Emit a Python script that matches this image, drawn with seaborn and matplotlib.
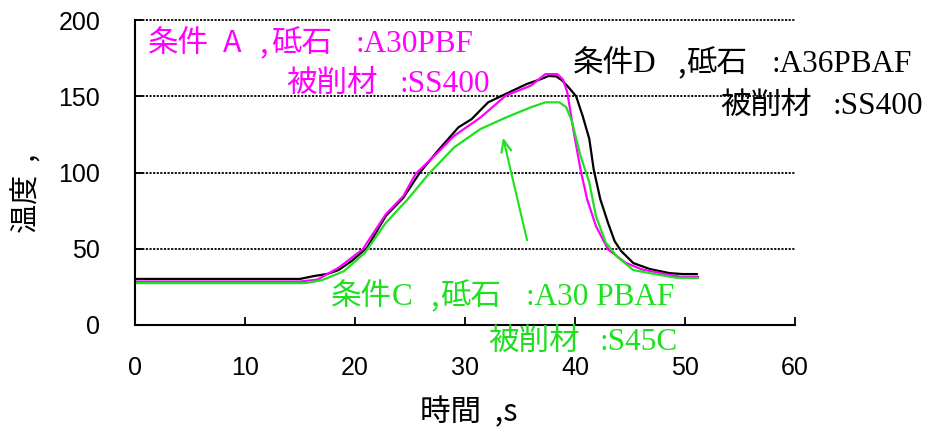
import matplotlib
matplotlib.use("Agg")
import matplotlib.pyplot as plt
import pandas as pd
import seaborn as sns

# Temperature histories (time in s, temperature)
t_d = [0, 15, 16.2, 17.5, 18.5, 19.7, 21.1, 22.8, 24.4, 25.9, 27.5, 29.4, 30.6, 32.1,
       33.7, 35.6, 37.0, 37.6, 38.3, 38.8, 39.4, 40.1, 40.7, 41.3, 41.7, 42.3, 43.0,
       43.6, 44.2, 45.3, 46.8, 48.6, 49.8, 51.1]
temp_d = [30.2, 30.2, 32, 33.5, 36, 42, 50.7, 71.5, 83.5, 100, 114, 129.6, 135, 146,
          151.5, 158, 161.5, 163.3, 163, 160.5, 156, 150, 137, 122, 102, 82.5, 67,
          55, 48.5, 40.6, 36.7, 34, 33.4, 33.4]

t_a = [0, 15, 16.6, 18.5, 20.7, 22.8, 24.4, 25.5, 27.5, 29.0, 31.4, 33.7, 36.0, 37.3,
       38.4, 38.9, 39.3, 39.9, 40.5, 41.1, 41.9, 43.0, 44.6, 46.1, 48.5, 49.6, 51.2]
temp_a = [28.5, 28.5, 29.8, 37.5, 49.6, 72.6, 84.6, 99, 113, 124, 136, 150.4, 157, 164.5,
          164.5, 161, 152.6, 126, 102, 82.5, 65, 49.6, 40.8, 36.4, 33, 31.6, 31.6]

t_c = [0, 15.5, 17.0, 19.0, 20.9, 22.8, 24.8, 26.7, 29.0, 31.4, 33.7, 36.0, 37.3, 38.6,
       39.2, 39.7, 40.5, 41.3, 41.9, 42.8, 43.8, 45.3, 46.8, 49.2, 51.2]
temp_c = [27.5, 27.5, 29.4, 35.3, 47.4, 67, 82.5, 99, 116.4, 128.5, 136, 142.8, 146, 146,
          142.8, 134, 111, 93.4, 71.5, 54, 45, 36, 34, 31, 30.8]

x_ticks = [0, 10, 20, 30, 40, 50, 60]
y_ticks = [0, 50, 100, 150, 200]

BLACK = "#000000"
MAGENTA = "#ff00ff"
GREEN = "#1ee01e"

W, H = 929, 432

sns.set_theme(style="white")
plt.rcParams["font.family"] = ["Liberation Sans", "Noto Sans CJK JP"]

df = pd.concat([
    pd.DataFrame({"t": t_d, "temp": temp_d, "cond": "D"}),
    pd.DataFrame({"t": t_a, "temp": temp_a, "cond": "A"}),
    pd.DataFrame({"t": t_c, "temp": temp_c, "cond": "C"}),
], ignore_index=True)

fig = plt.figure(figsize=(W / 100, H / 100), dpi=100)
ax = fig.add_axes([135 / W, 1 - 325 / H, 660 / W, 305 / H])

sns.lineplot(data=df, x="t", y="temp", hue="cond", hue_order=["D", "A", "C"],
             palette={"D": BLACK, "A": MAGENTA, "C": GREEN},
             sort=False, estimator=None, linewidth=1.6, legend=False, ax=ax)

ax.set_xlim(0, 60)
ax.set_ylim(0, 200)
ax.set_xticks(x_ticks)
ax.set_yticks(y_ticks)
for yv in y_ticks[1:]:
    ax.axhline(yv, color="black", linestyle=(0, (1.2, 0.8)), linewidth=1.3, zorder=0,
               clip_on=False)

for side in ("top", "right"):
    ax.spines[side].set_visible(False)
for side in ("left", "bottom"):
    ax.spines[side].set_color("black")
    ax.spines[side].set_linewidth(1.5)

ax.tick_params(axis="both", direction="in", length=6, width=1.3, color="black",
               labelsize=18, labelcolor="black", left=True, bottom=True)
ax.tick_params(axis="y", pad=25)
ax.tick_params(axis="x", pad=22)

CJK = ["Noto Sans CJK JP"]
SERIF = ["Liberation Serif"]

ax.set_xlabel("時間  ,s", fontsize=22, family=CJK, color="black")
ax.set_ylabel("温度  ,", fontsize=21, family=CJK, color="black")
ax.xaxis.set_label_coords(0.505, -0.235)
ax.yaxis.set_label_coords(-0.14, 0.43)

# Green arrow pointing at the condition C curve
ax.annotate("", xy=(33.4, 124.6), xytext=(35.7, 53.8),
            arrowprops=dict(arrowstyle="->,head_length=0.7,head_width=0.3",
                            color=GREEN, lw=1.5))


def mixed_label(parts, color, baseline_px):
    """Write text fragments (left pixel, string, font family) on one baseline."""
    for left_px, s, fam in parts:
        size = 22 if fam is CJK else 22.5
        fig.text(left_px / W, 1 - baseline_px / H, s, ha="left", va="baseline",
                 color=color, fontsize=size, family=fam)


mixed_label([(148, "条件", CJK), (223, "A", CJK), (259, ",", CJK),
             (271, "砥石", CJK), (356, ":A30PBF", SERIF)], MAGENTA, 52)
mixed_label([(286, "被削材", CJK), (400, ":SS400", SERIF)], MAGENTA, 92)
mixed_label([(573, "条件", CJK), (632, "D", SERIF), (677, ",", CJK),
             (686, "砥石", CJK), (771, ":A36PBAF", SERIF)], BLACK, 72)
mixed_label([(720, "被削材", CJK), (833, ":SS400", SERIF)], BLACK, 114)
mixed_label([(331, "条件", CJK), (392, "C", SERIF), (430, ",", CJK),
             (440, "砥石", CJK), (526, ":A30 PBAF", SERIF)], GREEN, 305)
mixed_label([(488, "被削材", CJK), (600, ":S45C", SERIF)], GREEN, 350)

fig.savefig("out.png", dpi=100)
